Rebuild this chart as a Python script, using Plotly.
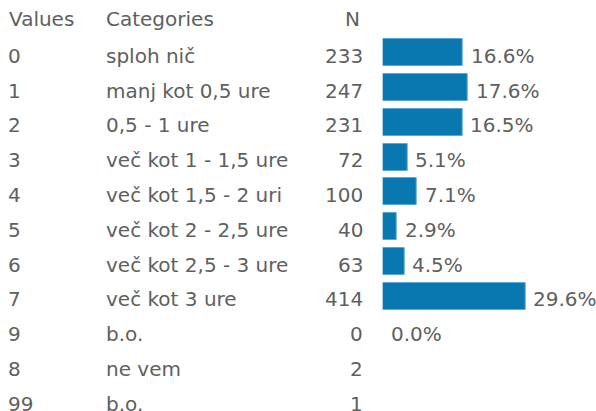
import plotly.graph_objects as go

values = ["0", "1", "2", "3", "4", "5", "6", "7", "9", "8", "99"]
categories = ["sploh nič", "manj kot 0,5 ure", "0,5 - 1 ure", "več kot 1 - 1,5 ure",
              "več kot 1,5 - 2 uri", "več kot 2 - 2,5 ure", "več kot 2,5 - 3 ure",
              "več kot 3 ure", "b.o.", "ne vem", "b.o."]
n_counts = [233, 247, 231, 72, 100, 40, 63, 414, 0, 2, 1]
percents = [16.6, 17.6, 16.5, 5.1, 7.1, 2.9, 4.5, 29.6, 0.0, None, None]
headers = ["Values", "Categories", "N"]

W, H = 596, 411
FONT = "DejaVu Sans"
FS = 20
TXT = "#606060"
BAR = "#0a78b0"

rows = list(range(len(values)))
bar_rows = [r for r, p in zip(rows, percents) if p is not None]
bar_vals = [p for p in percents if p is not None]

fig = go.Figure()
fig.add_trace(go.Bar(
    x=bar_vals, y=bar_rows, orientation="h", width=0.776,
    marker=dict(color=BAR, line=dict(color="#5aa8d8", width=[1 if v > 0 else 0 for v in bar_vals])),
    hoverinfo="skip", showlegend=False,
))

ann = []
font = dict(family=FONT, size=FS, color=TXT)
YS = -3
ann.append(dict(x=7 / W, y=-1, xref="paper", yref="y", text=headers[0], xanchor="left", yshift=-1, showarrow=False, font=font))
ann.append(dict(x=104 / W, y=-1, xref="paper", yref="y", text=headers[1], xanchor="left", yshift=-1, showarrow=False, font=font))
ann.append(dict(x=362 / W, y=-1, xref="paper", yref="y", text=headers[2], xanchor="right", yshift=-1, showarrow=False, font=font))
for r in rows:
    ann.append(dict(x=6 / W, y=r, xref="paper", yref="y", text=values[r], xanchor="left", yshift=YS, showarrow=False, font=font))
    ann.append(dict(x=104 / W, y=r, xref="paper", yref="y", text=categories[r], xanchor="left", yshift=YS, showarrow=False, font=font))
    ann.append(dict(x=365.3 / W, y=r, xref="paper", yref="y", text=str(n_counts[r]), xanchor="right", yshift=YS, showarrow=False, font=font))
    if percents[r] is not None:
        ann.append(dict(x=percents[r], y=r, xref="x", yref="y", text=f"{percents[r]:.1f}%",
                        xanchor="left", xshift=6, yshift=YS, showarrow=False, font=font))

x0 = 382.7
pxper = 4.82
y0 = 52.7
pitch = 34.8
fig.update_layout(
    width=W, height=H, margin=dict(l=0, r=0, t=0, b=0),
    paper_bgcolor="white", plot_bgcolor="white",
    xaxis=dict(domain=[x0 / W, 1], range=[0, (W - x0) / pxper], visible=False, fixedrange=True),
    yaxis=dict(range=[(H - y0) / pitch, -y0 / pitch], visible=False, fixedrange=True),
    annotations=ann,
    bargap=0,
)
fig.write_html("out.html", config={"displayModeBar": False},
               post_script="document.body.style.margin='0';")
